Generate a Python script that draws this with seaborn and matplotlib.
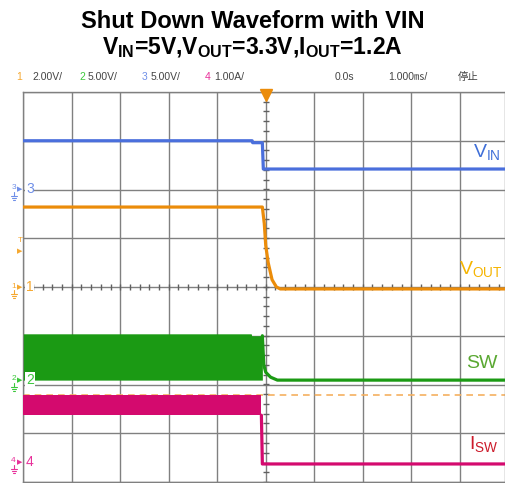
import numpy as np
import matplotlib.pyplot as plt
from matplotlib.lines import Line2D
import seaborn as sns

# scope traces, x in ms (1 div = 1 ms), y in divisions
vin_t = [-5.0, -0.28, -0.27, -0.07, -0.05, 4.93]
vin_v = [3.0, 3.0, 2.96, 2.96, 2.42, 2.42]

vout_t = [-5.0, -0.07, -0.03, 0.0, 0.05, 0.13, 0.22, 0.3, 4.93]
vout_v = [1.64, 1.64, 1.3, 0.85, 0.5, 0.15, 0.0, -0.04, -0.04]

sw_band_t = [-5.0, -0.3, -0.29, -0.07]
sw_band_hi = [-0.96, -0.96, -1.0, -1.0]
sw_band_lo = [-1.91, -1.91, -1.91, -1.91]
sw_t = [-0.07, -0.04, 0.0, 0.1, 0.24, 4.93]
sw_v = [-1.0, -1.6, -1.75, -1.85, -1.91, -1.91]

isw_band_t = [-5.0, -0.09]
isw_band_hi = [-2.22, -2.22]
isw_band_lo = [-2.63, -2.63]
isw_t = [-0.09, -0.07, 4.93]
isw_v = [-2.63, -3.63, -3.63]

trig_level = -2.22

BLUE = "#4a6fdc"
ORANGE = "#eb8c0a"
GREEN = "#1b9a14"
PINK = "#d40a6e"

sns.set_theme(style="white")
SANS = ["Liberation Sans", "DejaVu Sans"]
plt.rcParams["font.family"] = SANS
plt.rcParams["mathtext.fontset"] = "custom"
plt.rcParams["mathtext.rm"] = "Liberation Sans"
plt.rcParams["mathtext.bf"] = "Liberation Sans:bold"

W, H = 505, 483
fig = plt.figure(figsize=(W / 100, H / 100), dpi=100)
x0, x1, y0, y1 = 23.3, 505, 92, 482
ax = fig.add_axes([x0 / W, 1 - y1 / H, (x1 - x0) / W, (y1 - y0) / H])
ax.set_xlim(-5, (x1 - 265.7) / 48.5)
ax.set_ylim(-4, 4)

# graticule
ax.set_xticks(range(-5, 5))
ax.set_yticks(range(-4, 5))
ax.grid(True, color="#808080", lw=1.0)
ax.tick_params(length=0, labelbottom=False, labelleft=False)
for s in ax.spines.values():
    s.set_color("#808080")
    s.set_linewidth(1.0)
minor = np.arange(-5, 5.01, 0.2)
ax.plot(minor, np.zeros_like(minor), ls="none", marker="|", ms=4, color="#606060", mew=1)
minor_y = np.arange(-4, 4.01, 0.2)
ax.plot(np.zeros_like(minor_y), minor_y, ls="none", marker="_", ms=4, color="#606060", mew=1)

# trigger level
ax.axhline(trig_level, color="#f5b060", lw=1.2, ls=(0, (4, 3)), zorder=2)

# traces
ax.fill_between(sw_band_t, sw_band_lo, sw_band_hi, color=GREEN, lw=0, zorder=3)
ax.fill_between(isw_band_t, isw_band_lo, isw_band_hi, color=PINK, lw=0, zorder=3)
kw = dict(estimator=None, sort=False, lw=2.3, ax=ax, legend=False, zorder=4)
sns.lineplot(x=vin_t, y=vin_v, color=BLUE, **kw)
sns.lineplot(x=vout_t, y=vout_v, color=ORANGE, **kw)
sns.lineplot(x=sw_t, y=sw_v, color=GREEN, **kw)
sns.lineplot(x=isw_t, y=isw_v, color=PINK, **kw)
ax.set_xlabel("")
ax.set_ylabel("")

# trigger position marker
ax.plot([0], [3.93], marker="v", ms=8, color=ORANGE, clip_on=False, zorder=6)

# channel labels on the right
ax.text(4.55, 2.75, r"V$_{\mathrm{IN}}$", color="#3f6fd8", fontsize=14, ha="center", va="center")
ax.text(4.44, 0.35, r"V$_{\mathrm{OUT}}$", color="#f5b400", fontsize=14, ha="center", va="center")
ax.text(4.46, -1.56, "SW", color="#5aa832", fontsize=14, ha="center", va="center")
ax.text(4.5, -3.24, r"I$_{\mathrm{SW}}$", color="#cc1a2a", fontsize=14, ha="center", va="center")

# channel reference markers on the left
def fx(px):
    return px / W

def fy(py):
    return 1 - py / H

def ground(px, py, col):
    # small ground symbol under the channel number
    lines = [([px, px], [py, py + 4]), ([px - 3, px + 3], [py + 4, py + 4]),
             ([px - 2, px + 2], [py + 6, py + 6]), ([px - 1, px + 1], [py + 8, py + 8])]
    for xs, ys in lines:
        fig.add_artist(Line2D([fx(v) for v in xs], [fy(v) for v in ys], color=col, lw=0.8,
                              transform=fig.transFigure))

for num, py, col in [("3", 189, "#6f8fe8"), ("1", 287, "#f5a830"), ("2", 380, "#3cc83c"), ("4", 462, "#e8309a")]:
    fig.text(fx(13.5), fy(py - 1), num, color=col, fontsize=6, ha="center", va="center")
    ground(13.5, py + 3, col)
    fig.text(fx(19.5), fy(py), "▶", color=col, fontsize=5, ha="center", va="center",
             family=["DejaVu Sans"])
    fig.text(fx(26), fy(py), num, color=col, fontsize=10, ha="left", va="center",
             bbox=dict(facecolor="white", edgecolor="none", pad=0.5))
fig.text(fx(20), fy(240), "T", color="#f5a830", fontsize=6, ha="center", va="center")
fig.text(fx(20), fy(251), "▶", color="#f5a830", fontsize=5, ha="center", va="center",
         family=["DejaVu Sans"])

# scope header line
hdr_y = fy(77)
hdr = [
    (16, "1", "#f5a830"), (32, "2.00V/", "#444444"),
    (79, "2", "#3cc83c"), (88, "5.00V/", "#444444"),
    (142, "3", "#6f8fe8"), (151, "5.00V/", "#444444"),
    (205, "4", "#e8309a"), (214, "1.00A/", "#444444"),
    (335, "0.0s", "#444444"), (388, "1.000㎳/", "#444444"),
    (458, "停止", "#444444"),
]
for px, s, col in hdr:
    fig.text(fx(px), hdr_y, s, color=col, fontsize=7.5, ha="left", va="center",
             family=SANS + ["Noto Sans CJK JP"])

# title
fig.text(0.5, fy(21), "Shut Down Waveform with VIN", fontsize=17, fontweight="bold",
         ha="center", va="center", color="black")
fig.text(0.5, fy(48), r"V$_{\mathbf{IN}}$=5V,V$_{\mathbf{OUT}}$=3.3V,I$_{\mathbf{OUT}}$=1.2A",
         fontsize=16.5, fontweight="bold", ha="center", va="center", color="black")

fig.savefig("out.png", dpi=100)
